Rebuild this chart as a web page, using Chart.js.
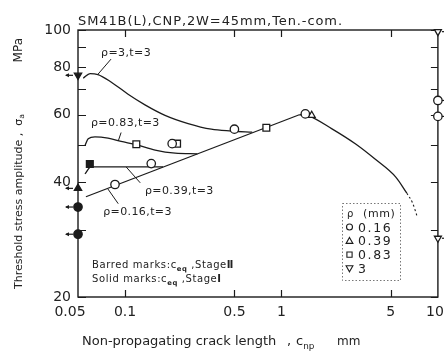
<!DOCTYPE html>
<html lang="en">
<head>
<meta charset="UTF-8">
<title>Threshold stress amplitude vs non-propagating crack length</title>
<style>
  html, body { margin: 0; padding: 0; background: #fff; overflow: hidden; }
</style>
<script src="https://cdn.jsdelivr.net/npm/chart.js"></script>
</head>
<body>
<canvas id="crackChart" width="444" height="352"></canvas>
<script>
const INK = '#1b1b1b';
const FONT = '"DejaVu Sans", sans-serif';

// axis ticks (log-log)
const xTickValues = [0.05, 0.1, 0.5, 1, 5, 10];
const yTickValues = [20, 30, 40, 50, 60, 70, 80, 90, 100];
const yTickLabels = [20, 40, 60, 80, 100];

// fitted curves, rho = notch root radius (mm), t = 3
const rho3X = [0.054, 0.0597, 0.0671, 0.0813, 0.1045, 0.134, 0.180, 0.253, 0.356, 0.478, 0.65];
const rho3Y = [74.8, 76.9, 76.4, 73.1, 67.9, 63.7, 59.8, 56.9, 55.0, 54.4, 54.0];
const rho083X = [0.0554, 0.0581, 0.0642, 0.0778, 0.0943, 0.1177, 0.1557, 0.209, 0.29];
const rho083Y = [49.8, 51.9, 52.5, 52.1, 51.1, 50.1, 48.5, 47.6, 47.4];
const rho039X = [0.0554, 0.0605, 0.175];
const rho039Y = [42.0, 43.8, 43.8];
const rho016X = [0.0562, 1.3];
const rho016Y = [36.6, 60.0];
const dropX = [1.3, 1.49, 2.09, 2.98, 4.0, 5.38, 6.33];
const dropY = [60.0, 59.6, 55.2, 50.3, 45.8, 41.2, 37.4];
const dropTailX = [6.33, 6.9, 7.33];
const dropTailY = [37.4, 35.2, 32.7];

// measured points
const circleX = [0.0862, 0.147, 0.20, 0.5, 1.42];
const circleY = [39.4, 44.7, 50.4, 55.0, 60.3];
const edgeCircleX = [10, 10];
const edgeCircleY = [65.4, 59.4];
const squareX = [0.118, 0.215, 0.80];
const squareY = [50.2, 50.4, 55.5];
const triUpX = [1.56];
const triUpY = [59.8];
const triDownX = [10, 10];
const triDownY = [99, 28.5];
const solidDownX = [0.05];
const solidDownY = [76.1];
const solidUpX = [0.05];
const solidUpY = [38.5];
const solidCircleX = [0.05, 0.05];
const solidCircleY = [34.4, 29.2];
const solidSquareX = [0.0595];
const solidSquareY = [44.6];

function pts(xs, ys) { return xs.map((v, i) => ({ x: v, y: ys[i] })); }

function curve(label, xs, ys, extra) {
  return Object.assign({
    label, data: pts(xs, ys), borderColor: INK, borderWidth: 1.3,
    pointRadius: 0, fill: false, cubicInterpolationMode: 'monotone'
  }, extra || {});
}

function marks(label, xs, ys, style, filled, extra) {
  return Object.assign({
    label, data: pts(xs, ys), showLine: false, pointStyle: style,
    pointRadius: 4.2, pointBorderWidth: 1.3, pointBorderColor: INK,
    pointBackgroundColor: filled ? INK : '#fff', clip: false
  }, extra || {});
}

// text run with optional subscripts and letter spacing
function runText(ctx, parts, x, y, size, spacing) {
  let cx = x;
  for (const p of parts) {
    const fs = p.sub ? size * 0.68 : size;
    ctx.font = (p.bold ? 'bold ' : '') + fs + 'px ' + FONT;
    ctx.letterSpacing = '0px';
    const w = ctx.measureText(p.t).width + spacing * p.t.length;
    ctx.letterSpacing = spacing + 'px';
    ctx.fillText(p.t, cx, y + (p.sub ? size * 0.28 : 0));
    cx += w;
  }
  ctx.letterSpacing = '0px';
  return cx - x;
}

function measureRun(ctx, parts, size, spacing) {
  let w = 0;
  for (const p of parts) {
    const fs = p.sub ? size * 0.68 : size;
    ctx.font = (p.bold ? 'bold ' : '') + fs + 'px ' + FONT;
    ctx.letterSpacing = '0px';
    w += ctx.measureText(p.t).width + spacing * p.t.length;
  }
  return w;
}

const notes = [
  { text: 'ρ=3,t=3', x: 0.0702, y: 87.0, from: [0.0813, 83.9], to: [0.0671, 76.6] },
  { text: 'ρ=0.83,t=3', x: 0.0605, y: 56.9, from: [0.0943, 53.9], to: [0.0904, 51.2] },
  { text: 'ρ=0.39,t=3', x: 0.134, y: 37.9, from: [0.1016, 43.8], to: [0.125, 39.8] },
  { text: 'ρ=0.16,t=3', x: 0.0724, y: 33.4, from: [0.0775, 38.4], to: [0.0904, 35.1] }
];

// end labels on the x axis are nudged left so they stay on the canvas
const xLabelNudge = { 0.05: -8, 10: -3 };

const decor = {
  id: 'decor',
  beforeDatasetsDraw(chart) {
    const { ctx, chartArea: a, scales: { x, y } } = chart;
    ctx.save();
    ctx.strokeStyle = INK;
    ctx.lineWidth = 1.4;
    ctx.strokeRect(a.left, a.top, a.right - a.left, a.bottom - a.top);
    ctx.lineWidth = 1.2;
    ctx.beginPath();
    yTickValues.forEach(v => {
      const py = Math.round(y.getPixelForValue(v)) + 0.5;
      ctx.moveTo(a.left, py); ctx.lineTo(a.left + 8, py);
      ctx.moveTo(a.right - 7, py); ctx.lineTo(a.right, py);
    });
    xTickValues.slice(1, -1).forEach(v => {
      const px = Math.round(x.getPixelForValue(v)) + 0.5;
      ctx.moveTo(px, a.top); ctx.lineTo(px, a.top + 7);
      ctx.moveTo(px, a.bottom); ctx.lineTo(px, a.bottom - 7);
    });
    ctx.stroke();

    // leader lines from labels to curves
    ctx.lineWidth = 1;
    ctx.beginPath();
    notes.forEach(n => {
      ctx.moveTo(x.getPixelForValue(n.from[0]), y.getPixelForValue(n.from[1]));
      ctx.lineTo(x.getPixelForValue(n.to[0]), y.getPixelForValue(n.to[1]));
    });
    ctx.stroke();
    ctx.restore();
  },
  afterDatasetsDraw(chart) {
    const { ctx } = chart;
    ctx.save();
    ctx.strokeStyle = INK;
    ctx.fillStyle = INK;
    ctx.lineWidth = 1.2;
    chart.data.datasets.forEach((ds, i) => {
      if (!ds.edge) return;
      chart.getDatasetMeta(i).data.forEach(pt => {
        ctx.beginPath();
        if (ds.edge === 'left') {
          ctx.moveTo(pt.x - 5, pt.y); ctx.lineTo(pt.x - 12, pt.y);
          ctx.stroke();
          ctx.beginPath();
          ctx.moveTo(pt.x - 13, pt.y); ctx.lineTo(pt.x - 9, pt.y - 2); ctx.lineTo(pt.x - 9, pt.y + 2);
          ctx.closePath(); ctx.fill();
        } else {
          ctx.moveTo(pt.x + 4, pt.y); ctx.lineTo(pt.x + 8, pt.y);
          ctx.stroke();
        }
      });
    });
    ctx.restore();
  },
  afterDraw(chart) {
    const { ctx, chartArea: a, scales: { x, y } } = chart;
    ctx.save();
    ctx.fillStyle = '#222';

    // x tick labels
    ctx.font = '14px ' + FONT;
    ctx.textAlign = 'center';
    ctx.textBaseline = 'middle';
    xTickValues.forEach(v => {
      ctx.fillText(String(v), x.getPixelForValue(v) + (xLabelNudge[v] || 0), a.bottom + 15);
    });

    ctx.textAlign = 'left';

    // title
    ctx.textBaseline = 'alphabetic';
    runText(ctx, [{ t: 'SM41B(L),CNP,2W=45mm,Ten.-com.' }], 78, 25, 13, 0.9);

    // x axis title
    runText(ctx, [{ t: 'Non-propagating crack length' }], 82, 345, 13, 0);
    runText(ctx, [{ t: ',' }], 287, 345, 13, 0);
    runText(ctx, [{ t: 'c' }, { t: 'np', sub: true }], 296, 345, 13, 0);
    runText(ctx, [{ t: 'mm' }], 337, 345, 12, 0);

    // y axis title, read bottom to top
    ctx.save();
    ctx.translate(19, 289);
    ctx.rotate(-Math.PI / 2);
    ctx.textBaseline = 'middle';
    runText(ctx, [{ t: 'Threshold stress amplitude ,  σ' }, { t: 'a', sub: true }], 0, 0, 11, 0);
    const mpa = [{ t: 'MPa' }];
    runText(ctx, mpa, 289 - 38 - measureRun(ctx, mpa, 12, 0), 0, 12, 0);
    ctx.restore();

    // curve labels
    ctx.textBaseline = 'middle';
    notes.forEach(n => {
      runText(ctx, [{ t: n.text }], x.getPixelForValue(n.x), y.getPixelForValue(n.y), 11, 0.4);
    });

    // stage notes
    ctx.textBaseline = 'alphabetic';
    runText(ctx, [{ t: 'Barred marks:c' }, { t: 'eq', sub: true, bold: true }, { t: ' ,Stage' }, { t: 'Ⅱ', bold: true }], 92, 268, 10, 0.6);
    runText(ctx, [{ t: 'Solid marks:c' }, { t: 'eq', sub: true, bold: true }, { t: ' ,Stage' }, { t: 'Ⅰ', bold: true }], 92, 282, 10, 0.6);

    // key box
    ctx.strokeStyle = '#777';
    ctx.lineWidth = 1;
    ctx.setLineDash([1.5, 2]);
    ctx.strokeRect(342.5, 203.5, 58, 77);
    ctx.setLineDash([]);
    runText(ctx, [{ t: 'ρ' }], 347, 217, 10, 0);
    runText(ctx, [{ t: '(mm)' }], 363, 217, 11, 0.6);
    const keyRows = ['0.16', '0.39', '0.83', '3'];
    const keyShapes = ['circle', 'up', 'square', 'down'];
    ctx.strokeStyle = INK;
    ctx.lineWidth = 1.1;
    keyRows.forEach((lbl, i) => {
      const by = 231.5 + i * 13.8;
      const cx = 349.5, cy = by - 4.5, r = 3;
      ctx.beginPath();
      if (keyShapes[i] === 'circle') {
        ctx.arc(cx, cy, r, 0, Math.PI * 2);
      } else if (keyShapes[i] === 'square') {
        ctx.rect(cx - 2.6, cy - 2.6, 5.2, 5.2);
      } else if (keyShapes[i] === 'up') {
        ctx.moveTo(cx, cy - 3.4); ctx.lineTo(cx + 3.4, cy + 2.6); ctx.lineTo(cx - 3.4, cy + 2.6); ctx.closePath();
      } else {
        ctx.moveTo(cx, cy + 3.4); ctx.lineTo(cx + 3.4, cy - 2.6); ctx.lineTo(cx - 3.4, cy - 2.6); ctx.closePath();
      }
      ctx.stroke();
      runText(ctx, [{ t: lbl }], 358, by, 12.5, 1.6);
    });
    ctx.restore();
  }
};

new Chart(document.getElementById('crackChart').getContext('2d'), {
  type: 'line',
  data: {
    datasets: [
      marks('solid down', solidDownX, solidDownY, 'triangle', true, { pointRotation: 180, edge: 'left' }),
      marks('solid up', solidUpX, solidUpY, 'triangle', true, { edge: 'left' }),
      marks('solid circle', solidCircleX, solidCircleY, 'circle', true, { edge: 'left' }),
      marks('solid square', solidSquareX, solidSquareY, 'rect', true, { pointRadius: 4.8 }),
      marks('circle', circleX, circleY, 'circle', false),
      marks('edge circle', edgeCircleX, edgeCircleY, 'circle', false, { edge: 'right' }),
      marks('square', squareX, squareY, 'rect', false, { pointRadius: 4.8 }),
      marks('triangle', triUpX, triUpY, 'triangle', false, { pointRadius: 4 }),
      marks('triangle down', triDownX, triDownY, 'triangle', false, { pointRotation: 180, pointRadius: 4, edge: 'right' }),
      curve('rho 3', rho3X, rho3Y),
      curve('rho 0.83', rho083X, rho083Y),
      curve('rho 0.39', rho039X, rho039Y),
      curve('rho 0.16', rho016X, rho016Y, { tension: 0, cubicInterpolationMode: 'default' }),
      curve('drop', dropX, dropY),
      curve('drop tail', dropTailX, dropTailY, { borderDash: [2, 2.5], borderWidth: 1.1 })
    ]
  },
  options: {
    responsive: false,
    animation: false,
    devicePixelRatio: 1,
    layout: { padding: { top: 30, right: 6, left: 0, bottom: 0 } },
    plugins: { legend: { display: false }, tooltip: { enabled: false }, title: { display: false } },
    scales: {
      x: {
        type: 'logarithmic', min: 0.05, max: 10,
        afterBuildTicks: s => { s.ticks = xTickValues.map(v => ({ value: v })); },
        afterFit: s => { s.height = 55; s.paddingLeft = 0; s.paddingRight = 0; },
        grid: { display: false, drawTicks: false },
        border: { display: false },
        ticks: { display: false }
      },
      y: {
        type: 'logarithmic', min: 20, max: 100,
        afterBuildTicks: s => { s.ticks = yTickValues.map(v => ({ value: v })); },
        afterFit: s => { s.width = 78; s.paddingTop = 0; s.paddingBottom = 0; },
        grid: { display: false, drawTicks: false },
        border: { display: false },
        ticks: {
          autoSkip: false, padding: 7, color: '#222',
          font: { family: FONT, size: 14 },
          callback: v => yTickLabels.includes(v) ? String(v) : ''
        }
      }
    }
  },
  plugins: [decor]
});
</script>
</body>
</html>
